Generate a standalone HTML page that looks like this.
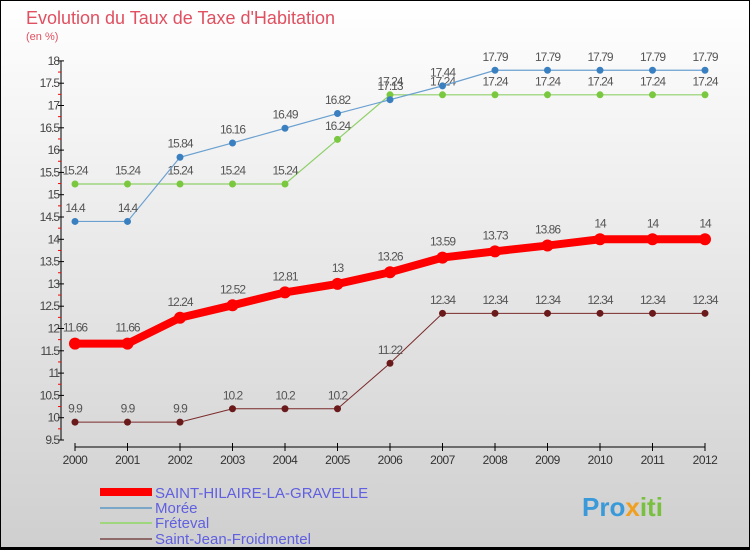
<!DOCTYPE html>
<html><head><meta charset="utf-8"><style>
html,body{margin:0;padding:0}
body{width:750px;height:550px;overflow:hidden;font-family:"Liberation Sans",sans-serif}
#wrap{position:absolute;left:0;top:0;width:748px;height:546px;border:1px solid #000;border-bottom:3px solid #000;background:linear-gradient(#ffffff,#cfcfcf)}
</style></head><body>
<div id="wrap">
<svg id="chart" width="750" height="550" style="position:absolute;left:-1px;top:-1px">
<text x="26" y="24" font-size="18" fill="#e05060">Evolution du Taux de Taxe d'Habitation</text>
<text x="26" y="40" font-size="11" fill="#e05060">(en %)</text>
<g id="axes"></g><g id="series"></g>
<g>
<rect x="100" y="488" width="52" height="8" fill="#f00"/>
<text x="155" y="498" font-size="15" fill="#6060e0">SAINT-HILAIRE-LA-GRAVELLE</text>
<rect x="100" y="507" width="52" height="2" fill="#7aa6c8"/>
<text x="155" y="513" font-size="15" fill="#6060e0">Morée</text>
<rect x="100" y="522" width="52" height="2" fill="#9fd67e"/>
<text x="155" y="528" font-size="15" fill="#6060e0">Fréteval</text>
<rect x="100" y="538" width="52" height="2" fill="#8e6a6a"/>
<text x="155" y="544" font-size="15" fill="#6060e0">Saint-Jean-Froidmentel</text>
</g>
<text x="582" y="516" font-size="26" font-weight="bold" fill="#3a9ad9">Pro<tspan fill="#f0a020">x</tspan><tspan fill="#7ac040">iti</tspan></text>
</svg></div>
<script>
const years=[2000,2001,2002,2003,2004,2005,2006,2007,2008,2009,2010,2011,2012];
const yTicks=[9.5,10,10.5,11,11.5,12,12.5,13,13.5,14,14.5,15,15.5,16,16.5,17,17.5,18];
const saintHilaire=[11.66,11.66,12.24,12.52,12.81,13,13.26,13.59,13.73,13.86,14,14,14];
const moree=[14.4,14.4,15.84,16.16,16.49,16.82,17.13,17.44,17.79,17.79,17.79,17.79,17.79];
const freteval=[15.24,15.24,15.24,15.24,15.24,16.24,17.24,17.24,17.24,17.24,17.24,17.24,17.24];
const saintJean=[9.9,9.9,9.9,10.2,10.2,10.2,11.22,12.34,12.34,12.34,12.34,12.34,12.34];
const NS='http://www.w3.org/2000/svg';
const xS=i=>75+i*52.5, yS=v=>440-(v-9.5)*44.6;
function mk(t,a,p){const e=document.createElementNS(NS,t);for(const k in a)e.setAttribute(k,a[k]);p.appendChild(e);return e;}
const ax=document.getElementById('axes');
let yl=mk('line',{x1:61,y1:yS(18),x2:61,y2:yS(9.5),stroke:'#000'},ax);


yTicks.forEach((v,k)=>{
  mk('line',{x1:58,x2:64,y1:yS(v),y2:yS(v),stroke:'#000'},ax);
  if(k<yTicks.length-1) mk('line',{x1:58,x2:61,y1:yS(v+0.25),y2:yS(v+0.25),stroke:'#f00'},ax);
  const t=mk('text',{x:59,y:yS(v)+4,'font-size':12,fill:'#444','text-anchor':'end','letter-spacing':'-1'},ax);
  t.textContent=String(v);
  
  
});
let xl=mk('line',{x1:xS(0),y1:447,x2:xS(12),y2:447,stroke:'#000'},ax);


years.forEach((y,i)=>{
  mk('line',{x1:xS(i),x2:xS(i),y1:443,y2:451,stroke:'#000'},ax);
  const t=mk('text',{x:xS(i),y:464,'font-size':12,fill:'#333','text-anchor':'middle','letter-spacing':'-0.5'},ax);
  t.textContent=String(y);
  
  
});
const sg=document.getElementById('series');
function draw(vals,color,dot,w,r,name){
  const g=mk('g',{},sg);
  
  
  mk('polyline',{points:vals.map((v,i)=>xS(i)+','+yS(v)).join(' '),fill:'none',stroke:color,'stroke-width':w},g);
  vals.forEach((v,i)=>{
    const c=mk('circle',{cx:xS(i),cy:yS(v),r:r,fill:dot},g);
    
    
    const t=mk('text',{x:xS(i),y:yS(v)-r-6,'font-size':12,fill:'#555','text-anchor':'middle','letter-spacing':'-1'},g);
    t.textContent=String(v);
    
    
  });
}
draw(saintJean,'#7a2a2a','#6a1a1a',1,3.5,'saint-jean');
draw(freteval,'#8fd06a','#7ac840',1.2,3.5,'freteval');
draw(moree,'#6aa0d0','#3a80c0',1.2,3.5,'moree');
draw(saintHilaire,'#f00','#f00',8,6,'saint-hilaire');
</script>
</body></html>
